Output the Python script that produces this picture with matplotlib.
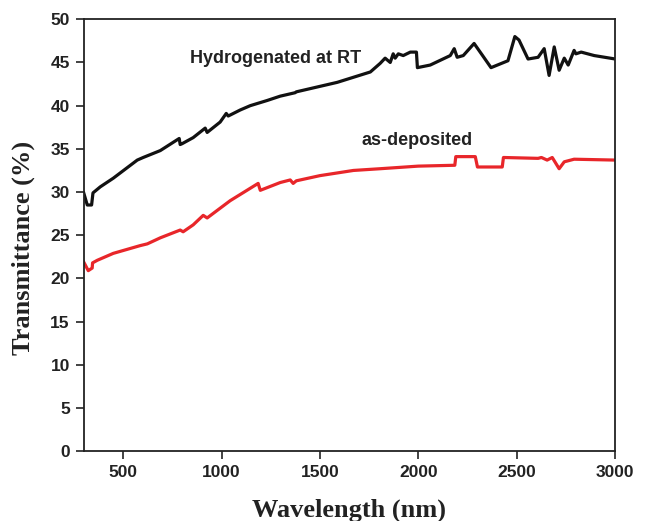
import matplotlib
matplotlib.use("Agg")
import matplotlib.pyplot as plt

# hydrogenated at RT (black)
wl_h = [300, 318, 340, 347, 384, 450, 572, 602, 689, 785, 790, 800, 856, 917,
        927, 993, 1024, 1034, 1095, 1146, 1232, 1298, 1374, 1380, 1588, 1756,
        1806, 1831, 1857, 1872, 1882, 1898, 1923, 1959, 1990, 1995, 2060, 2162,
        2182, 2197, 2228, 2283, 2320, 2369, 2455, 2490, 2511, 2557, 2608, 2639,
        2664, 2690, 2715, 2741, 2761, 2791, 2800, 2827, 2893, 3000]
t_h = [29.9, 28.5, 28.5, 29.9, 30.6, 31.6, 33.7, 34.0, 34.8, 36.2, 35.5, 35.6,
       36.3, 37.4, 36.9, 38.1, 39.1, 38.8, 39.5, 40.0, 40.6, 41.1, 41.5, 41.6,
       42.7, 43.9, 44.9, 45.5, 45.0, 46.0, 45.5, 46.0, 45.8, 46.2, 46.2, 44.4,
       44.7, 45.8, 46.6, 45.6, 45.8, 47.2, 46.0, 44.4, 45.2, 48.0, 47.6, 45.4,
       45.6, 46.6, 43.5, 46.8, 44.1, 45.5, 44.7, 46.4, 46.0, 46.2, 45.8, 45.4]

# as-deposited (red)
wl_a = [300, 323, 343, 345, 369, 450, 587, 623, 689, 790, 805, 856, 907, 927,
        1044, 1186, 1197, 1298, 1349, 1364, 1380, 1500, 1670, 1806, 1999, 2185,
        2190, 2289, 2300, 2426, 2432, 2608, 2625, 2654, 2680, 2715, 2741, 2791,
        3000]
t_a = [21.9, 20.9, 21.2, 21.8, 22.1, 22.9, 23.8, 24.0, 24.7, 25.6, 25.4, 26.2,
       27.3, 27.0, 29.0, 31.0, 30.2, 31.1, 31.4, 31.0, 31.3, 31.9, 32.5, 32.7,
       33.0, 33.1, 34.1, 34.1, 32.9, 32.9, 34.0, 33.9, 34.0, 33.7, 34.0, 32.7,
       33.5, 33.8, 33.7]

fig = plt.figure(figsize=(6.49, 5.21), dpi=100)
ax = fig.add_axes([0.129, 0.134, 0.819, 0.829])

ax.plot(wl_h, t_h, color="#111111", lw=2.3)
ax.plot(wl_a, t_a, color="#e8262a", lw=2.3)

ax.set_xlim(300, 3000)
ax.set_ylim(0, 50)
ax.set_xticks(range(500, 3001, 500))
ax.set_yticks(range(0, 51, 5))

for s in ax.spines.values():
    s.set_linewidth(1.3)
    s.set_color("#222222")
ax.tick_params(direction="out", length=6, width=1.2, pad=4, colors="#222222")
for lab in ax.get_xticklabels() + ax.get_yticklabels():
    lab.set_fontfamily("Liberation Sans")
    lab.set_fontweight("bold")
    lab.set_fontsize(12.5)

serif = dict(family="Liberation Serif", weight="bold", size=19, color="#222222")
ax.set_xlabel("Wavelength (nm)", labelpad=13, **serif)
ax.set_ylabel("Transmittance (%)", labelpad=10, **serif)
ax.yaxis.set_label_coords(-0.092, 0.47)

sans = dict(family="Liberation Sans", weight="bold", size=13, color="#222222")
ax.text(1273, 45.5, "Hydrogenated at RT", ha="center", va="center", **sans)
ax.text(1994, 36.0, "as-deposited", ha="center", va="center", **sans)

fig.savefig("out.png", dpi=100)
